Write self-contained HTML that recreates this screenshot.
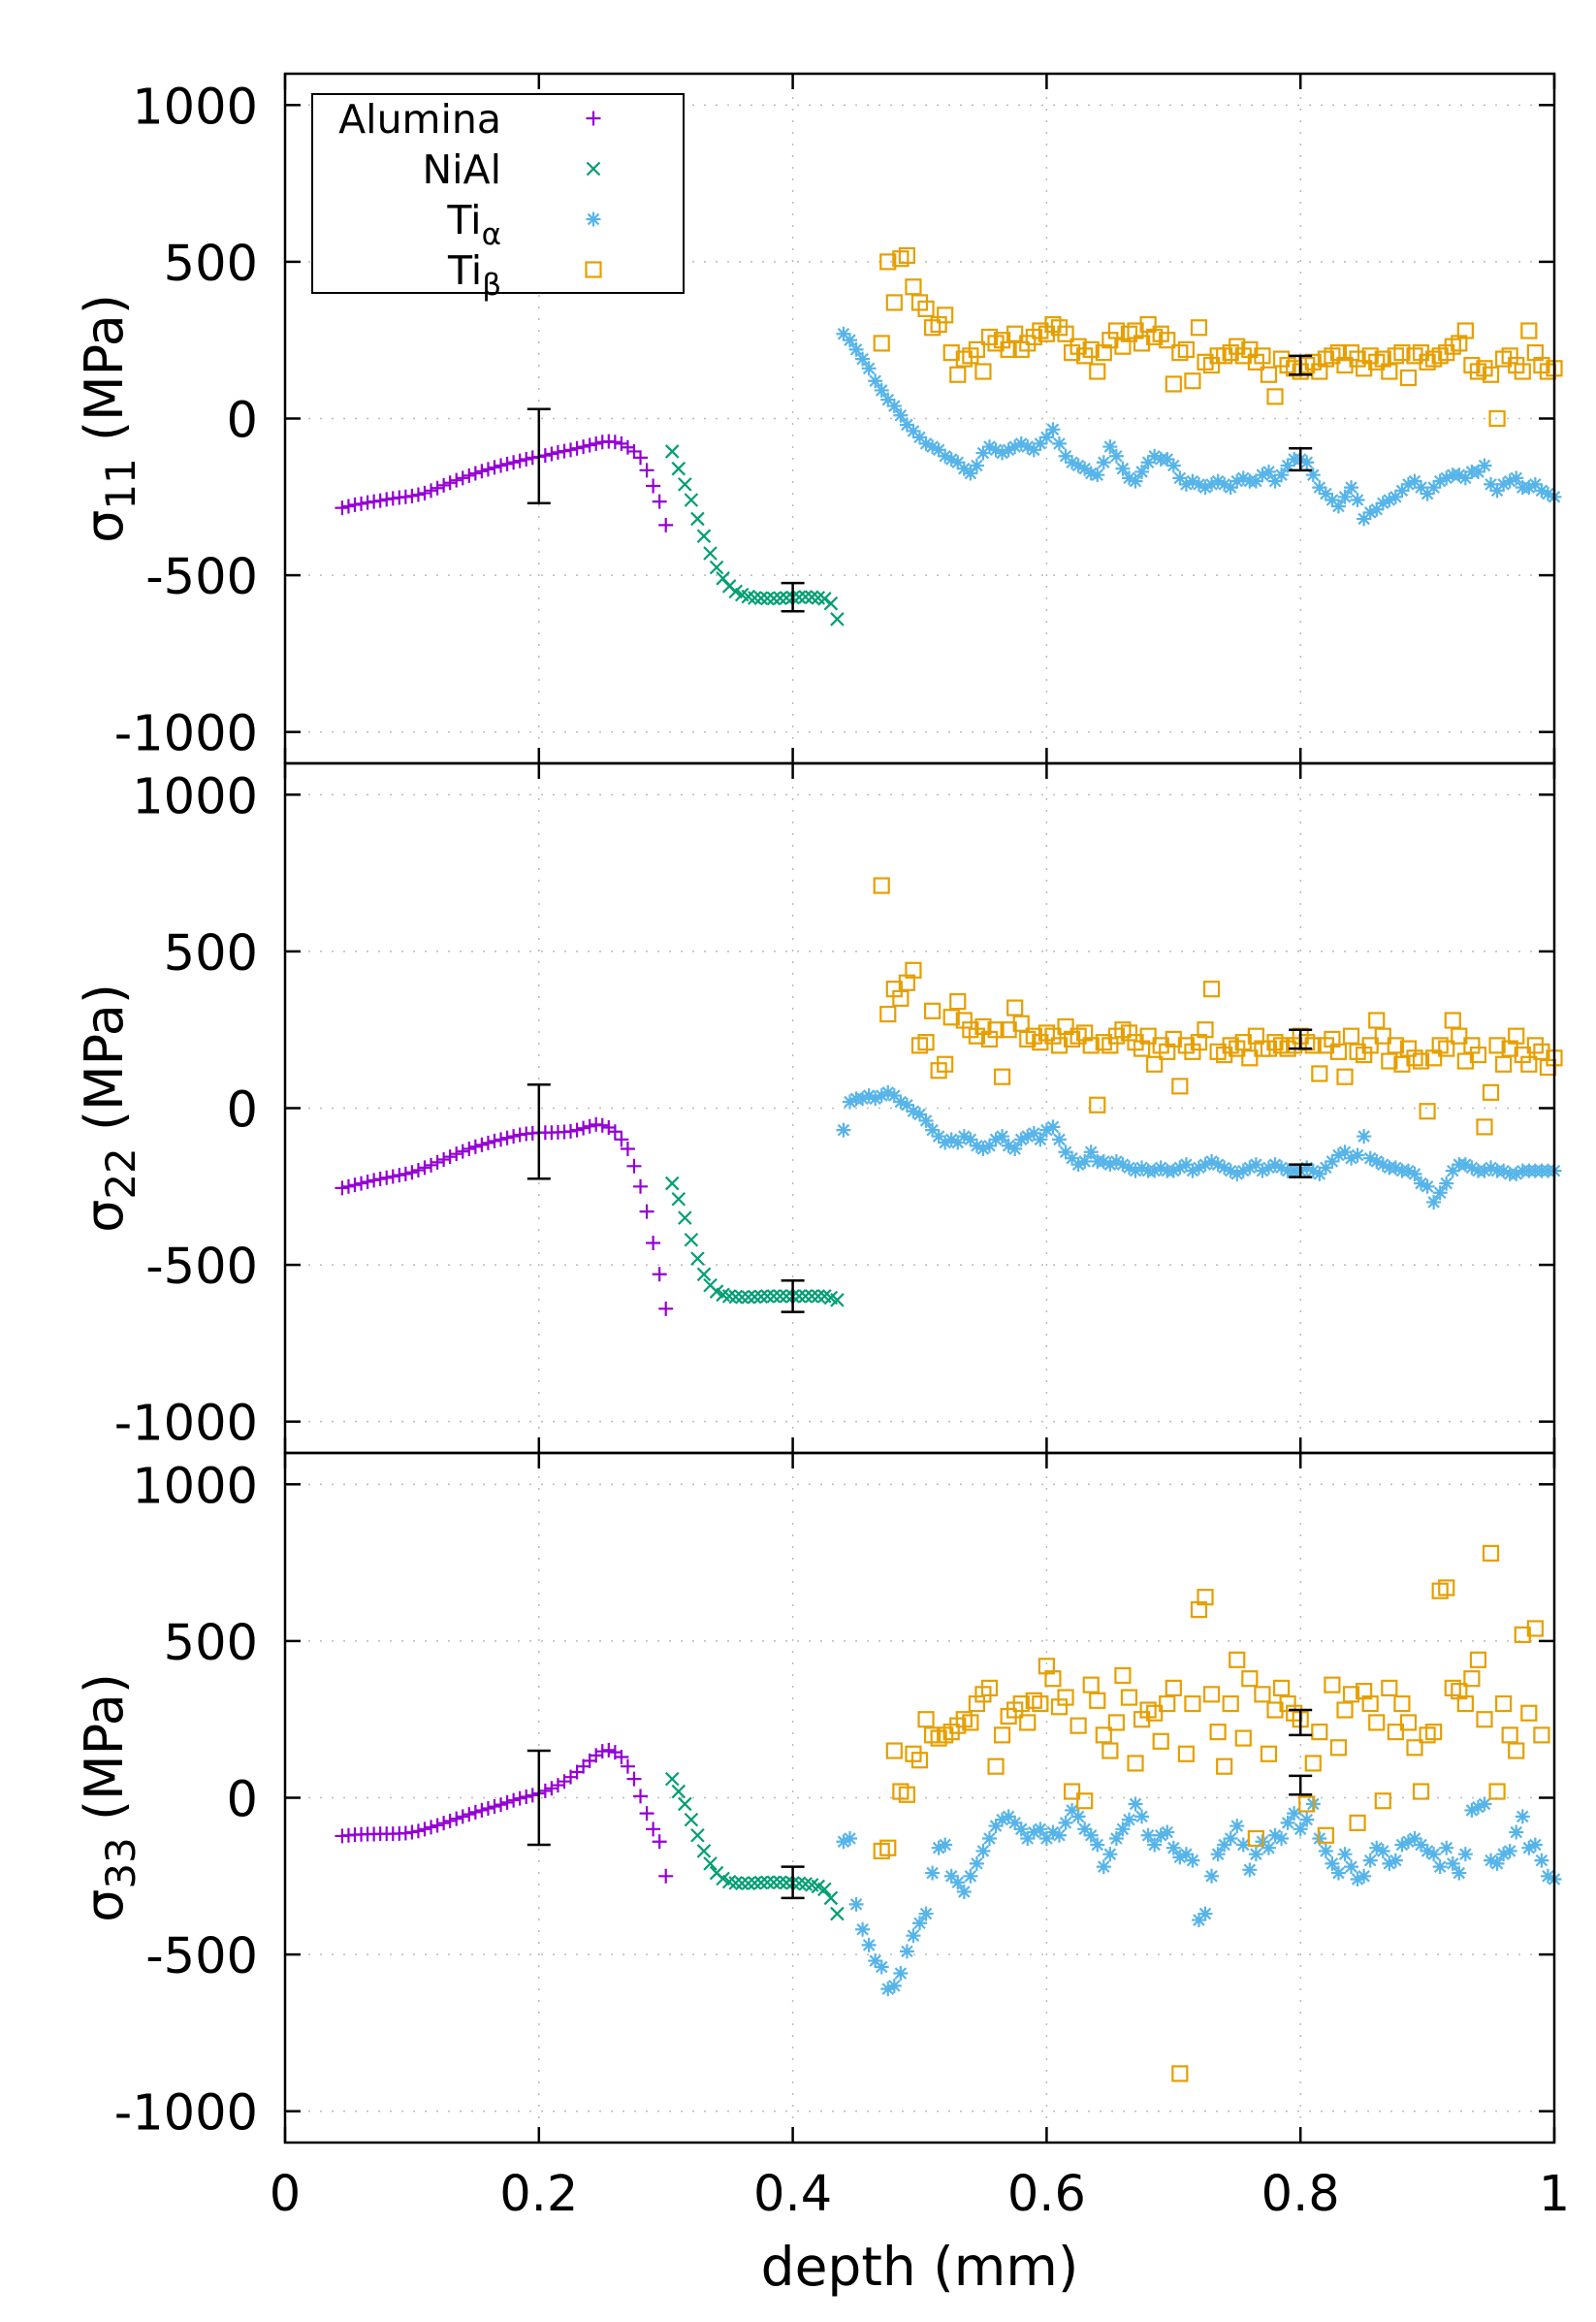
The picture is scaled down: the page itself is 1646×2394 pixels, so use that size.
<!DOCTYPE html>
<html><head><meta charset="utf-8"><style>
html,body{margin:0;padding:0;background:#fff;}
svg{display:block;font-family:"DejaVu Sans","Liberation Sans",sans-serif;}
</style></head><body>
<svg id="chart" width="1646" height="2394" viewBox="0 0 1646 2394" xmlns="http://www.w3.org/2000/svg"></svg>
<script>
const xTicks=[0,0.2,0.4,0.6,0.8,1];
const xTickLabels=["0","0.2","0.4","0.6","0.8","1"];
const yTicks=[1000,500,0,-500,-1000];
const yTickLabels=["1000","500","0","-500","-1000"];
const panelLabels=["11","22","33"];
const seriesNames=["Alumina","NiAl","Ti","Ti"];
const seriesSubs=["","","α","β"];

const depthAl=[0.045,0.05,0.055,0.06,0.065,0.07,0.075,0.08,0.085,0.09,0.095,0.1,0.105,0.11,0.115,0.12,0.125,0.13,0.135,0.14,0.145,0.15,0.155,0.16,0.165,0.17,0.175,0.18,0.185,0.19,0.195,0.2,0.205,0.21,0.215,0.22,0.225,0.23,0.235,0.24,0.245,0.25,0.255,0.26,0.265,0.27,0.275,0.28,0.285,0.29,0.295,0.3];
const al11=[-285,-280,-275,-272,-268,-265,-262,-258,-255,-252,-250,-247,-243,-238,-230,-222,-213,-205,-197,-190,-182,-175,-168,-162,-156,-150,-145,-140,-135,-130,-125,-122,-118,-113,-108,-104,-100,-95,-90,-85,-80,-75,-73,-75,-80,-92,-105,-125,-165,-215,-265,-340];
const al22=[-255,-250,-245,-240,-235,-230,-226,-222,-218,-214,-210,-205,-198,-190,-182,-173,-164,-155,-146,-138,-130,-123,-117,-111,-105,-100,-95,-90,-85,-82,-80,-78,-78,-78,-77,-76,-74,-70,-64,-58,-52,-55,-62,-75,-100,-130,-185,-250,-330,-430,-530,-640];
const al33=[-122,-120,-118,-117,-116,-116,-115,-115,-115,-114,-113,-110,-106,-100,-94,-88,-81,-74,-67,-60,-53,-46,-40,-34,-28,-22,-15,-8,-2,3,8,14,22,30,40,52,66,82,100,118,135,148,152,145,130,100,60,5,-50,-100,-140,-250];

const depthNi=[0.305,0.31,0.315,0.32,0.325,0.33,0.335,0.34,0.345,0.35,0.355,0.36,0.365,0.37,0.375,0.38,0.385,0.39,0.395,0.4,0.405,0.41,0.415,0.42,0.425,0.43,0.435];
const ni11=[-105,-160,-210,-260,-320,-375,-430,-475,-510,-535,-552,-562,-568,-572,-573,-574,-574,-573,-572,-571,-570,-569,-570,-572,-575,-590,-640];
const ni22=[-240,-290,-350,-420,-480,-530,-565,-585,-595,-600,-602,-603,-603,-602,-601,-600,-600,-600,-600,-600,-600,-600,-600,-600,-600,-605,-612];
const ni33=[60,20,-20,-70,-120,-170,-210,-240,-258,-268,-272,-273,-273,-272,-271,-270,-270,-270,-271,-272,-273,-275,-278,-283,-292,-320,-370];

const depthTa=[0.44,0.445,0.45,0.455,0.46,0.465,0.47,0.475,0.48,0.485,0.49,0.495,0.5,0.505,0.51,0.515,0.52,0.525,0.53,0.535,0.54,0.545,0.55,0.555,0.56,0.565,0.57,0.575,0.58,0.585,0.59,0.595,0.6,0.605,0.61,0.615,0.62,0.625,0.63,0.635,0.64,0.645,0.65,0.655,0.66,0.665,0.67,0.675,0.68,0.685,0.69,0.695,0.7,0.705,0.71,0.715,0.72,0.725,0.73,0.735,0.74,0.745,0.75,0.755,0.76,0.765,0.77,0.775,0.78,0.785,0.79,0.795,0.8,0.805,0.81,0.815,0.82,0.825,0.83,0.835,0.84,0.845,0.85,0.855,0.86,0.865,0.87,0.875,0.88,0.885,0.89,0.895,0.9,0.905,0.91,0.915,0.92,0.925,0.93,0.935,0.94,0.945,0.95,0.955,0.96,0.965,0.97,0.975,0.98,0.985,0.99,0.995,1.0];
const ta11=[270,250,220,190,160,120,90,60,40,10,-20,-40,-60,-80,-90,-100,-120,-130,-140,-160,-175,-150,-110,-90,-100,-110,-100,-90,-80,-90,-100,-80,-60,-35,-80,-120,-140,-150,-160,-175,-180,-140,-90,-120,-160,-190,-200,-170,-140,-120,-130,-130,-150,-190,-210,-200,-210,-220,-210,-200,-210,-220,-200,-190,-200,-200,-180,-170,-200,-180,-150,-130,-130,-140,-180,-220,-240,-260,-280,-250,-220,-260,-320,-300,-290,-270,-260,-250,-230,-210,-200,-220,-240,-220,-200,-190,-180,-180,-190,-170,-170,-150,-210,-230,-210,-200,-190,-220,-220,-210,-230,-240,-250];
const ta22=[-70,20,30,30,40,30,40,50,40,20,10,-10,-20,-40,-70,-90,-110,-100,-110,-90,-100,-120,-130,-120,-100,-90,-120,-130,-100,-90,-80,-100,-70,-60,-100,-140,-160,-180,-170,-140,-170,-170,-180,-170,-180,-190,-200,-190,-200,-200,-190,-200,-200,-190,-180,-200,-190,-180,-170,-180,-190,-200,-210,-200,-190,-180,-200,-190,-180,-190,-200,-200,-200,-190,-200,-210,-190,-170,-150,-140,-160,-150,-90,-160,-170,-180,-190,-190,-200,-200,-210,-240,-250,-300,-270,-240,-200,-180,-180,-190,-200,-200,-190,-200,-200,-210,-210,-200,-200,-200,-200,-200,-200];
const ta33=[-140,-130,-340,-420,-470,-520,-540,-610,-600,-560,-490,-440,-400,-370,-240,-160,-150,-250,-270,-300,-250,-210,-170,-130,-90,-70,-60,-80,-100,-130,-110,-100,-130,-110,-120,-80,-40,-60,-100,-120,-150,-220,-180,-130,-100,-70,-20,-60,-120,-150,-120,-110,-160,-190,-180,-200,-390,-370,-250,-180,-150,-130,-90,-150,-230,-180,-140,-160,-120,-130,-80,-50,-100,-70,-20,-130,-170,-210,-240,-180,-220,-260,-250,-200,-160,-170,-210,-200,-150,-140,-130,-150,-170,-180,-220,-160,-210,-240,-180,-40,-30,-20,-200,-210,-180,-170,-110,-60,-160,-150,-200,-250,-260];

const depthTb=[0.47,0.475,0.48,0.485,0.49,0.495,0.5,0.505,0.51,0.515,0.52,0.525,0.53,0.535,0.54,0.545,0.55,0.555,0.56,0.565,0.57,0.575,0.58,0.585,0.59,0.595,0.6,0.605,0.61,0.615,0.62,0.625,0.63,0.635,0.64,0.645,0.65,0.655,0.66,0.665,0.67,0.675,0.68,0.685,0.69,0.695,0.7,0.705,0.71,0.715,0.72,0.725,0.73,0.735,0.74,0.745,0.75,0.755,0.76,0.765,0.77,0.775,0.78,0.785,0.79,0.795,0.8,0.805,0.81,0.815,0.82,0.825,0.83,0.835,0.84,0.845,0.85,0.855,0.86,0.865,0.87,0.875,0.88,0.885,0.89,0.895,0.9,0.905,0.91,0.915,0.92,0.925,0.93,0.935,0.94,0.945,0.95,0.955,0.96,0.965,0.97,0.975,0.98,0.985,0.99,0.995,1.0];
const tb11=[240,500,370,510,520,420,370,350,290,300,330,210,140,190,200,220,150,260,240,250,220,270,220,240,260,280,270,300,290,270,210,230,200,220,150,210,250,280,230,270,280,240,300,260,270,250,110,210,220,120,290,180,170,200,200,210,230,200,220,180,200,140,70,190,170,160,150,170,180,150,190,200,210,170,210,190,160,200,180,190,150,200,210,130,200,210,180,190,200,210,230,240,280,170,150,160,140,0,190,200,170,150,280,210,170,150,160];
const tb22=[710,300,380,350,400,440,200,210,310,120,140,290,340,280,250,230,260,220,250,100,250,320,270,220,230,210,240,230,200,260,220,230,240,200,10,210,200,230,250,240,210,190,230,140,200,180,220,70,200,180,210,250,380,180,170,200,190,210,160,230,190,190,210,200,190,200,230,210,200,110,200,220,180,100,230,180,170,200,280,230,150,200,140,190,160,150,-10,160,200,190,280,230,150,200,170,-60,50,200,140,190,230,170,140,200,180,130,160];
const tb33=[-170,-160,150,20,10,140,120,250,200,190,200,210,230,250,240,300,330,350,100,200,260,280,300,240,310,300,420,380,290,320,20,230,-10,360,310,200,150,240,390,320,110,250,280,270,180,300,350,-880,140,300,600,640,330,210,100,300,440,190,380,-130,330,140,280,350,300,270,250,-20,110,210,-120,360,160,280,330,-80,340,300,240,-10,350,210,300,240,160,20,200,210,660,670,350,340,300,380,440,250,780,20,300,200,150,520,270,540,200];

const panelSeries=[[al11,ni11,ta11,tb11],[al22,ni22,ta22,tb22],[al33,ni33,ta33,tb33]];
const depths=[depthAl,depthNi,depthTa,depthTb];
const errX=[0.2,0.4,0.8,0.8];
const errY=[[-120,-570,-130,170],[-75,-600,-200,220],[0,-270,40,240]];
const errD=[[150,45,35,30],[150,50,20,30],[150,50,30,40]];

const colors=["#9400d3","#009e73","#56b4e9","#e69f00"];
const NS="http://www.w3.org/2000/svg";
const svg=document.getElementById("chart");
const L=294,R=1603,T0=76,PH=711;
function xs(d){return L+d*(R-L);}
function ys(p,v){return T0+p*PH+(1100-v)*PH/2200;}
function mk(tag,attrs,parent){const e=document.createElementNS(NS,tag);for(const k in attrs)e.setAttribute(k,attrs[k]);(parent||svg).appendChild(e);return e;}
function marker(g,k,x,y){
  const c=colors[k],s=7.5;
  if(k===0){mk("path",{d:`M${x-s} ${y}H${x+s}M${x} ${y-s}V${y+s}`,stroke:c,"stroke-width":2.2,fill:"none"},g);}
  else if(k===1){mk("path",{d:`M${x-s+1} ${y-s+1}L${x+s-1} ${y+s-1}M${x-s+1} ${y+s-1}L${x+s-1} ${y-s+1}`,stroke:c,"stroke-width":2.2,fill:"none"},g);}
  else if(k===2){mk("path",{d:`M${x-s} ${y}H${x+s}M${x} ${y-s}V${y+s}M${x-5.5} ${y-5.5}L${x+5.5} ${y+5.5}M${x-5.5} ${y+5.5}L${x+5.5} ${y-5.5}`,stroke:c,"stroke-width":2.2,fill:"none"},g);}
  else {mk("rect",{x:x-7.5,y:y-7.5,width:15,height:15,stroke:c,"stroke-width":2.2,fill:"none"},g);}
}
for(let p=0;p<3;p++){
  const top=T0+p*PH,bot=top+PH;
  const pg=mk("g",{});
  
  
  xTicks.forEach(t=>{if(t>0&&t<1){const ln=mk("line",{x1:xs(t),x2:xs(t),y1:top,y2:bot,stroke:"#bbb","stroke-width":1.5,"stroke-dasharray":"2,10"},pg);}});
  yTicks.forEach(t=>{const ln=mk("line",{x1:L,x2:R,y1:ys(p,t),y2:ys(p,t),stroke:"#bbb","stroke-width":1.5,"stroke-dasharray":"2,10"},pg);});
  xTicks.forEach(t=>{mk("line",{x1:xs(t),x2:xs(t),y1:top,y2:top+16,stroke:"#000","stroke-width":2.5},pg);mk("line",{x1:xs(t),x2:xs(t),y1:bot,y2:bot-16,stroke:"#000","stroke-width":2.5},pg);});
  yTicks.forEach((t,i)=>{
    mk("line",{x1:L,x2:L+16,y1:ys(p,t),y2:ys(p,t),stroke:"#000","stroke-width":2.5},pg);
    mk("line",{x1:R,x2:R-16,y1:ys(p,t),y2:ys(p,t),stroke:"#000","stroke-width":2.5},pg);
    const tx=mk("text",{x:266,y:ys(p,t)+19,"text-anchor":"end","font-size":51,fill:"#000"},pg);
    tx.textContent=yTickLabels[i];
    
    
  });
  const yl=mk("text",{transform:`translate(126,${top+PH/2}) rotate(-90)`,"text-anchor":"middle","font-size":54,fill:"#000"},pg);
  
  
  yl.innerHTML=`σ<tspan font-size="42" dy="13">${panelLabels[p]}</tspan><tspan dy="-13"> (MPa)</tspan>`;
  for(let k=0;k<4;k++){
    const g=mk("g",{},pg);
    
    
    const vals=panelSeries[p][k],dep=depths[k];
    const n=Math.min(vals.length,dep.length);
    for(let i=0;i<n;i++)marker(g,k,xs(dep[i]),ys(p,vals[i]));
  }
  for(let e=0;e<4;e++){
    const x=xs(errX[e]),y1=ys(p,errY[p][e]+errD[p][e]),y2=ys(p,errY[p][e]-errD[p][e]);
    const eb=mk("path",{d:`M${x} ${y1}V${y2}M${x-12} ${y1}H${x+12}M${x-12} ${y2}H${x+12}`,stroke:"#000","stroke-width":2.5,fill:"none"},pg);
    
    
  }
  const fr=mk("rect",{x:L,y:top,width:R-L,height:PH,fill:"none",stroke:"#000","stroke-width":2.5},pg);
  
  
}
xTicks.forEach((t,i)=>{const tx=mk("text",{x:xs(t),y:2279,"text-anchor":"middle","font-size":51,fill:"#000"});tx.textContent=xTickLabels[i];

});
const xl=mk("text",{x:(L+R)/2,y:2356,"text-anchor":"middle","font-size":55,fill:"#000"});
xl.textContent="depth (mm)";


const lg=mk("g",{});


mk("rect",{x:322,y:97,width:383,height:205,fill:"#fff",stroke:"#000","stroke-width":2},lg);
for(let k=0;k<4;k++){
  const y=122+k*52;
  const tx=mk("text",{x:517,y:y+15,"text-anchor":"end","font-size":41,fill:"#000"},lg);
  
  
  if(seriesSubs[k]){tx.innerHTML=`${seriesNames[k]}<tspan font-size="31" dy="11">${seriesSubs[k]}</tspan>`;}
  else tx.textContent=seriesNames[k];
  marker(lg,k,612,y);
}
</script>
</body></html>
